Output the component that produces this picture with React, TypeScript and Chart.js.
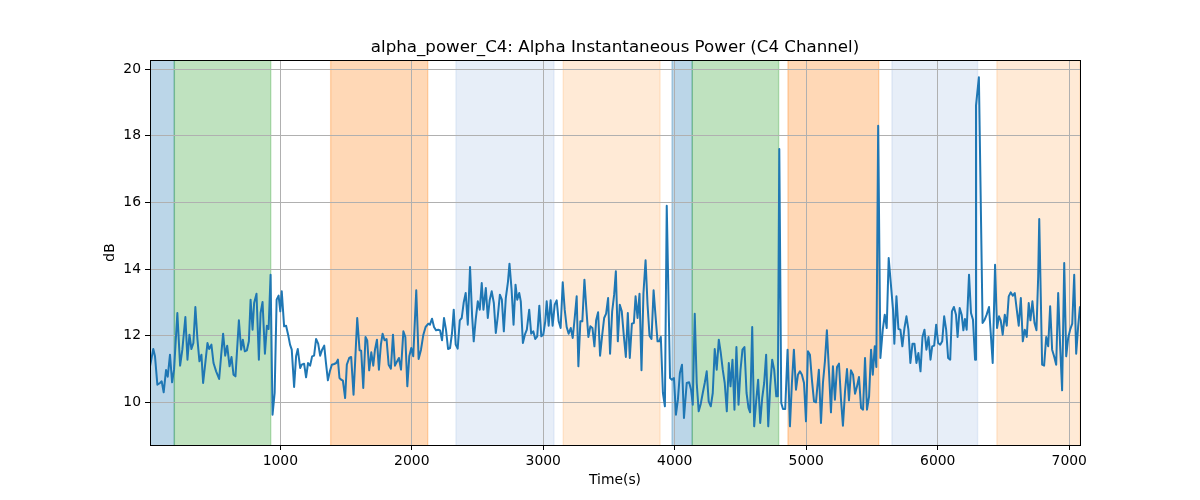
import React, { useRef, useEffect } from "react";
import { Chart, registerables, ChartConfiguration, Plugin } from "chart.js";

Chart.register(...registerables);

const chartTitle = "alpha_power_C4: Alpha Instantaneous Power (C4 Channel)";
const xLabel = "Time(s)";
const yLabel = "dB";

const xRange = [9, 7082];
const yRange = [8.72, 20.27];
const xTicks = [1000, 2000, 3000, 4000, 5000, 6000, 7000];
const yTicks = [10, 12, 14, 16, 18, 20];

// shaded stages (start, end in seconds, stage index)
const spanStart = [9, 194, 1383, 2336, 3152, 3979, 4133, 4861, 5652, 6450];
const spanEnd = [194, 927, 2121, 3081, 3888, 4133, 4790, 5551, 6303, 7082];
const spanStage = [0, 1, 2, 3, 4, 0, 1, 2, 3, 4];

// [time (s), power (dB)]
const samples: [number, number][] = [
  [9, 11.08], [34, 11.6], [47, 11.38], [65, 10.53], [85, 10.58], [98, 10.63], [113, 10.3], [131, 10.97],
  [144, 10.77], [161, 11.43], [177, 10.6], [192, 10.98], [217, 12.68], [238, 11.1], [255, 11.58], [278, 12.56],
  [294, 11.28], [309, 12.03], [324, 11.6], [339, 11.78], [354, 12.86], [370, 11.88], [385, 11.23], [400, 11.43],
  [413, 10.58], [431, 11.23], [446, 11.78], [459, 11.6], [476, 11.73], [492, 11.18], [512, 10.93], [535, 10.7],
  [550, 11.4], [565, 12.06], [581, 11.4], [596, 11.7], [614, 11.08], [629, 11.36], [644, 10.83], [659, 10.78],
  [685, 12.46], [702, 11.58], [715, 11.88], [730, 11.53], [746, 11.56], [761, 11.83], [774, 13.08], [789, 12.18],
  [801, 12.98], [819, 13.26], [837, 11.28], [850, 12.68], [865, 13.01], [883, 11.46], [898, 12.3], [911, 12.2],
  [926, 13.83], [941, 9.63], [957, 10.28], [972, 13.08], [987, 13.2], [1000, 12.73],
  [1011, 13.33], [1029, 12.28], [1044, 12.3], [1062, 11.98], [1074, 11.73], [1087, 11.58], [1105, 10.46], [1120, 11.38],
  [1133, 11.6], [1151, 11.03], [1163, 11.13], [1181, 11.16], [1196, 10.75], [1211, 11.18], [1227, 11.1], [1242, 11.38],
  [1257, 11.4], [1272, 11.9], [1288, 11.76], [1303, 11.4], [1318, 11.58], [1334, 11.7], [1346, 11.23], [1362, 10.66],
  [1377, 10.93], [1392, 11.13], [1410, 11.15], [1425, 11.18], [1438, 11.28], [1450, 10.73], [1463, 10.68], [1476, 10.65],
  [1493, 10.13], [1506, 11.13], [1524, 11.33], [1539, 11.36], [1557, 10.23], [1570, 11.28], [1585, 12.53], [1603, 11.56],
  [1615, 11.55], [1631, 10.43], [1648, 11.96], [1661, 11.86], [1676, 10.96], [1692, 11.5], [1707, 11.1], [1720, 11.58],
  [1735, 11.88], [1750, 10.98], [1765, 11.73], [1778, 12.06], [1793, 11.86], [1808, 11.9], [1824, 11.13], [1841, 11.01],
  [1857, 12.03], [1872, 11.1], [1887, 11.22], [1902, 11.33], [1918, 10.98], [1936, 12.13], [1951, 11.96], [1966, 10.48],
  [1981, 11.38], [1996, 11.63],
  [2011, 11.38], [2034, 13.36], [2052, 11.3], [2070, 11.58], [2088, 12.03], [2105, 12.26], [2126, 12.36], [2138, 12.33],
  [2154, 12.51], [2169, 12.26], [2184, 12.16], [2202, 12.18], [2215, 12.16], [2230, 11.86], [2245, 12.53], [2260, 12.18],
  [2276, 11.6], [2291, 11.63], [2306, 12.08], [2319, 12.78], [2334, 11.73], [2349, 11.61], [2365, 12.46], [2380, 12.53],
  [2395, 13.0], [2410, 13.28], [2426, 12.33], [2443, 14.06], [2459, 12.58], [2471, 11.83], [2486, 12.48], [2502, 13.03],
  [2517, 12.78], [2532, 13.58], [2545, 12.78], [2563, 13.43], [2578, 12.53], [2593, 13.08], [2608, 13.33], [2624, 12.98],
  [2639, 12.08], [2654, 12.58], [2670, 13.23], [2685, 13.08], [2700, 12.13], [2715, 13.13], [2731, 13.6], [2743, 14.16],
  [2759, 13.38], [2774, 12.33], [2789, 13.53], [2802, 13.08], [2817, 13.28], [2829, 13.03], [2845, 11.78], [2860, 12.03],
  [2875, 12.18], [2893, 12.78], [2908, 12.06], [2924, 12.13], [2939, 11.9], [2954, 11.98], [2970, 12.9], [2985, 11.98],
  [3000, 12.03], [3015, 12.43],
  [3026, 13.03], [3041, 12.3], [3056, 13.06], [3071, 12.3], [3087, 12.93], [3102, 13.06], [3117, 12.43], [3132, 12.23],
  [3148, 13.6], [3163, 12.78], [3178, 12.26], [3193, 12.06], [3209, 12.23], [3224, 11.93], [3239, 12.53], [3254, 13.18],
  [3267, 11.08], [3282, 12.43], [3297, 12.43], [3313, 13.68], [3328, 12.78], [3343, 11.96], [3358, 12.28], [3374, 12.23],
  [3389, 11.68], [3402, 12.46], [3417, 12.7], [3432, 11.4], [3447, 11.98], [3463, 12.53], [3478, 12.66], [3493, 13.13],
  [3508, 11.46], [3524, 12.73], [3539, 13.23], [3552, 13.93], [3567, 11.83], [3582, 12.93], [3597, 12.73], [3613, 11.98],
  [3628, 11.36], [3643, 12.68], [3658, 11.33], [3674, 12.36], [3689, 12.38], [3702, 13.18], [3717, 12.53], [3732, 13.26],
  [3747, 10.96], [3762, 13.28], [3778, 14.26], [3793, 12.93], [3808, 12.0], [3823, 11.9], [3839, 13.36], [3854, 12.58],
  [3869, 11.83], [3882, 11.83], [3894, 11.96], [3910, 10.28], [3925, 9.88], [3939, 15.9], [3964, 10.73], [3978, 10.68],
  [3994, 10.73], [4009, 9.63], [4024, 10.08], [4039, 10.88], [4055, 11.13], [4070, 9.53],
  [4091, 10.58], [4109, 10.6], [4124, 10.38], [4137, 9.93], [4152, 12.66], [4167, 10.58], [4182, 9.73], [4198, 9.96],
  [4213, 10.28], [4228, 10.58], [4243, 10.93], [4258, 10.03], [4274, 9.88], [4289, 10.28], [4304, 11.6], [4319, 10.98],
  [4335, 11.88], [4350, 11.48], [4365, 10.98], [4380, 10.58], [4396, 9.73], [4411, 11.18], [4424, 10.48], [4439, 11.28],
  [4454, 9.78], [4469, 11.66], [4485, 9.93], [4500, 10.97], [4515, 11.58], [4530, 11.66], [4546, 10.28], [4561, 9.83],
  [4573, 9.7], [4589, 12.26], [4604, 9.28], [4619, 10.03], [4634, 10.68], [4650, 9.38], [4665, 10.13], [4680, 10.58],
  [4695, 11.43], [4711, 9.28], [4726, 10.48], [4741, 11.28], [4756, 10.98], [4772, 10.18], [4784, 10.18], [4795, 17.6],
  [4810, 9.98], [4823, 9.8], [4840, 9.8], [4858, 11.58], [4876, 9.28], [4891, 10.58], [4906, 11.58], [4922, 10.38],
  [4937, 10.83], [4952, 10.93], [4967, 10.83], [4983, 10.58], [4998, 9.43], [5013, 11.53], [5028, 11.43], [5043, 10.68],
  [5059, 10.03], [5074, 10.0],
  [5096, 10.98], [5112, 9.38], [5127, 10.58], [5142, 11.23], [5157, 12.16], [5173, 10.93], [5188, 9.7], [5203, 11.08],
  [5218, 10.08], [5234, 11.06], [5249, 11.16], [5264, 10.1], [5279, 9.3], [5295, 10.33], [5310, 11.0], [5325, 10.06],
  [5340, 10.96], [5356, 10.83], [5371, 10.26], [5386, 10.48], [5401, 10.76], [5417, 9.83], [5432, 9.78], [5447, 11.33],
  [5462, 9.78], [5478, 10.18], [5493, 11.58], [5506, 10.83], [5521, 11.68], [5533, 11.06], [5547, 18.3], [5564, 11.33],
  [5582, 12.18], [5597, 12.63], [5612, 12.23], [5627, 14.33], [5645, 13.48], [5660, 12.78], [5670, 11.76], [5686, 13.18],
  [5701, 12.2], [5716, 12.18], [5731, 11.68], [5747, 12.23], [5762, 12.58], [5777, 12.18], [5792, 11.18], [5808, 11.76],
  [5823, 11.76], [5838, 11.18], [5853, 11.48], [5869, 10.93], [5884, 11.96], [5899, 12.18], [5914, 11.58], [5930, 11.96],
  [5945, 11.28], [5958, 11.68], [5973, 11.7], [5988, 12.33], [6003, 11.78], [6019, 11.73], [6034, 11.83], [6049, 12.58],
  [6064, 12.18], [6079, 11.33], [6095, 11.28],
  [6108, 12.73], [6123, 12.86], [6139, 12.63], [6151, 11.96], [6167, 12.83], [6182, 12.63], [6195, 12.16], [6207, 12.5],
  [6220, 12.18], [6238, 13.83], [6253, 12.68], [6268, 12.48], [6284, 11.28], [6291, 18.9], [6313, 19.75], [6341, 12.38],
  [6357, 12.48], [6372, 12.63], [6390, 12.86], [6403, 12.08], [6418, 11.18], [6436, 14.13], [6451, 12.23], [6466, 12.58],
  [6479, 12.46], [6494, 12.03], [6510, 12.63], [6525, 12.3], [6540, 13.18], [6555, 13.3], [6571, 13.2], [6586, 13.28],
  [6601, 12.78], [6616, 12.3], [6632, 13.13], [6647, 11.83], [6662, 12.18], [6677, 11.96], [6692, 12.98], [6705, 12.46],
  [6720, 13.03], [6736, 12.38], [6751, 12.16], [6764, 13.78], [6772, 15.5], [6794, 11.13], [6809, 11.1], [6825, 11.96],
  [6840, 11.68], [6855, 12.88], [6870, 11.58], [6885, 11.38], [6901, 11.13], [6916, 13.28], [6931, 11.68], [6946, 10.36],
  [6962, 14.18], [6977, 11.38], [6992, 11.93], [7007, 12.18], [7023, 12.36], [7038, 13.83], [7053, 11.46], [7068, 12.28],
  [7082, 12.88],
];

const stageFill = [
  "rgba(31, 119, 180, 0.3)",
  "rgba(44, 160, 44, 0.3)",
  "rgba(255, 127, 14, 0.3)",
  "rgba(174, 199, 232, 0.3)",
  "rgba(255, 187, 120, 0.3)",
];

const FONT = "'DejaVu Sans', 'Liberation Sans', sans-serif";

const decorations: Plugin<"line"> = {
  id: "decorations",
  beforeDraw(chart) {
    const { ctx, chartArea: a } = chart;
    const x = chart.scales.x;
    ctx.save();
    ctx.beginPath();
    ctx.rect(a.left, a.top, a.right - a.left, a.bottom - a.top);
    ctx.clip();
    spanStart.forEach((s, i) => {
      const x0 = x.getPixelForValue(s);
      const x1 = x.getPixelForValue(spanEnd[i]);
      ctx.fillStyle = stageFill[spanStage[i]];
      ctx.fillRect(x0, a.top, x1 - x0, a.bottom - a.top);
      ctx.strokeStyle = stageFill[spanStage[i]];
      ctx.lineWidth = 1.4;
      ctx.strokeRect(x0, a.top - 3, x1 - x0, a.bottom - a.top + 6);
    });
    ctx.restore();
  },
  afterDraw(chart) {
    const { ctx, chartArea: a } = chart;
    ctx.save();
    // frame
    ctx.strokeStyle = "#000";
    ctx.lineWidth = 1;
    ctx.strokeRect(a.left + 0.5, a.top + 0.5, a.right - a.left, a.bottom - a.top);
    const cx = (a.left + a.right) / 2;
    ctx.fillStyle = "#000";
    ctx.textAlign = "center";
    ctx.font = `16.67px ${FONT}`;
    ctx.textBaseline = "alphabetic";
    ctx.fillText(chartTitle, cx, a.top - 8.3);
    ctx.font = `13.9px ${FONT}`;
    ctx.textBaseline = "top";
    ctx.fillText(xLabel, cx, a.bottom + 28);
    ctx.translate(110, (a.top + a.bottom) / 2);
    ctx.rotate(-Math.PI / 2);
    ctx.textBaseline = "middle";
    ctx.fillText(yLabel, 0, 0);
    ctx.restore();
  },
};

const tickFont = { family: FONT, size: 13.9 };

const RecordingChart = () => {
  const canvasRef = useRef<HTMLCanvasElement | null>(null);
  const chartInstanceRef = useRef<Chart | null>(null);

  useEffect(() => {
    if (!canvasRef.current) return;
    if (chartInstanceRef.current) chartInstanceRef.current.destroy();

    const config: ChartConfiguration<"line"> = {
      type: "line",
      data: {
        datasets: [
          {
            label: "alpha_power_C4",
            data: samples.map(([t, v]) => ({ x: t, y: v })),
            borderColor: "#1f77b4",
            borderWidth: 2,
            borderJoinStyle: "round",
            pointRadius: 0,
            tension: 0,
            fill: false,
          },
        ],
      },
      options: {
        animation: false,
        responsive: false,
        layout: { padding: { top: 60, right: 120, left: 0, bottom: 0 } },
        plugins: {
          legend: { display: false },
          tooltip: { enabled: false },
          title: { display: false },
        },
        scales: {
          x: {
            type: "linear",
            min: xRange[0],
            max: xRange[1],
            afterBuildTicks: (s) => {
              s.ticks = xTicks.map((v) => ({ value: v }));
            },
            afterFit: (s) => {
              s.height = 55;
            },
            grid: { color: "#b0b0b0", lineWidth: 1, tickColor: "#000", tickLength: 5 },
            border: { display: false },
            ticks: {
              color: "#000",
              font: tickFont,
              padding: 3,
              maxRotation: 0,
              autoSkip: false,
              callback: (v) => String(v),
            },
          },
          y: {
            type: "linear",
            min: yRange[0],
            max: yRange[1],
            afterBuildTicks: (s) => {
              s.ticks = yTicks.map((v) => ({ value: v }));
            },
            afterFit: (s) => {
              s.width = 150;
            },
            grid: { color: "#b0b0b0", lineWidth: 1, tickColor: "#000", tickLength: 5 },
            border: { display: false },
            ticks: {
              color: "#000",
              font: tickFont,
              padding: 4,
              autoSkip: false,
              callback: (v) => String(v),
            },
          },
        },
      },
      plugins: [decorations],
    };

    chartInstanceRef.current = new Chart(canvasRef.current, config);

    return () => {
      if (chartInstanceRef.current) {
        chartInstanceRef.current.destroy();
        chartInstanceRef.current = null;
      }
    };
  }, []);

  return (
    <div style={{ position: "absolute", left: 0, top: 0, width: 1200, height: 500, background: "#fff" }}>
      <canvas ref={canvasRef} width={1200} height={500} style={{ display: "block" }} />
    </div>
  );
};

export default function App() {
  return <RecordingChart />;
}
